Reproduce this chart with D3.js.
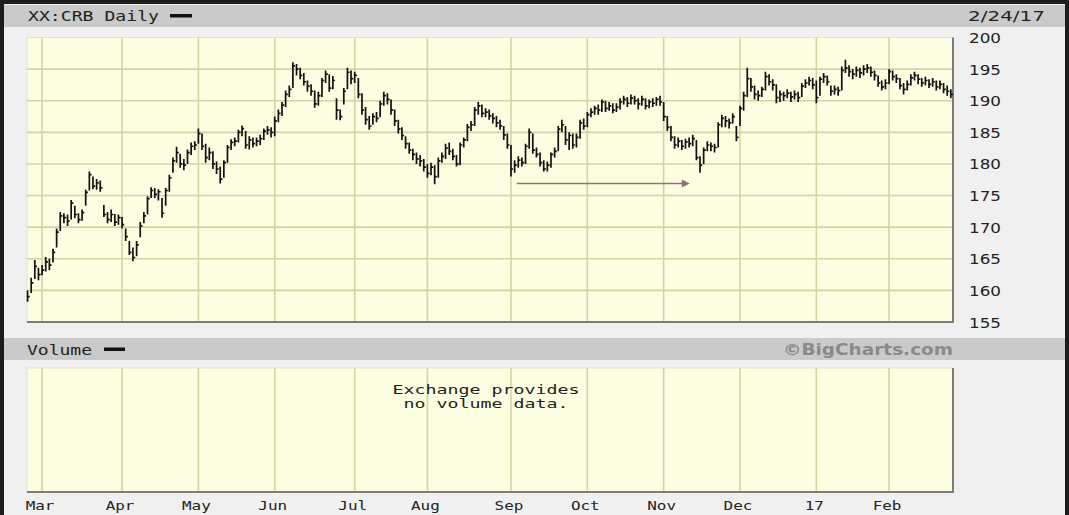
<!DOCTYPE html>
<html><head><meta charset="utf-8">
<script src="https://cdn.jsdelivr.net/npm/d3@7"></script>
<style>html,body{margin:0;padding:0;background:#1c1c1c;}svg{display:block;}</style>
</head><body>
<script>
// ---- data ----
const monthTickIndex = [4, 26, 47, 68, 90, 110, 133, 154, 175, 196, 217, 237];
const monthLabels = ["Mar","Apr","May","Jun","Jul","Aug","Sep","Oct","Nov","Dec","17","Feb"];
const yTicks = [200,195,190,185,180,175,170,165,160,155];
const close = [159.0,161.2,163.8,162.5,163.2,164.5,164.0,166.0,169.2,171.8,171.5,171.0,173.8,172.0,171.2,172.3,175.5,178.3,176.5,177.0,
176.2,172.0,171.2,172.0,170.8,171.5,170.4,168.5,166.0,165.2,167.2,170.2,171.8,174.5,175.8,175.2,175.6,172.2,175.8,177.8,
180.5,181.8,180.0,179.8,181.8,182.8,183.0,184.8,182.8,181.0,181.8,180.0,179.2,177.6,180.2,182.6,183.4,183.6,185.0,185.6,
183.0,183.8,183.2,183.6,184.0,185.2,185.4,185.0,186.8,188.0,189.3,191.0,191.8,195.5,195.0,194.0,193.0,192.3,191.5,189.5,
190.8,193.2,194.2,192.0,193.2,188.5,187.5,191.5,194.5,193.5,194.0,191.0,188.5,187.0,186.0,187.5,187.2,189.5,190.8,190.2,
188.5,186.8,185.5,184.5,183.2,182.2,181.5,180.8,180.5,179.5,178.5,179.5,178.0,180.5,181.2,182.5,182.0,181.2,180.0,183.0,
183.8,185.8,186.2,188.5,189.2,188.0,188.2,187.6,187.2,186.5,186.0,184.6,183.0,179.2,179.8,180.6,180.2,182.8,185.0,182.2,
181.5,180.2,179.2,179.8,181.5,182.0,185.5,186.2,183.8,184.5,183.0,184.2,186.5,186.0,187.8,188.2,188.8,188.5,189.8,188.8,
189.2,188.5,189.0,189.8,190.2,189.6,190.4,190.0,189.5,190.2,189.2,189.8,189.6,190.2,189.8,187.5,185.8,184.2,183.0,183.6,
182.8,183.5,183.2,184.0,181.0,179.8,182.2,183.0,182.8,182.6,186.2,187.2,186.8,186.5,187.5,184.2,188.8,190.8,193.5,192.2,
191.0,190.8,191.8,193.8,193.0,192.5,190.5,191.0,190.8,191.2,190.6,191.0,190.5,192.3,192.8,193.2,192.5,190.5,193.4,193.8,
193.0,191.5,191.8,191.6,194.8,195.2,194.6,194.2,194.8,194.4,195.0,195.2,194.5,194.0,192.8,192.2,192.8,194.6,193.8,193.5,
192.4,191.8,192.6,193.6,194.0,193.4,192.8,193.2,192.6,193.0,192.2,192.6,191.8,191.5,191.0];
const high = [160.0,162.0,164.8,163.6,164.0,165.3,165.0,166.6,169.8,172.4,172.2,172.0,174.3,173.4,172.2,172.8,175.9,178.8,178.0,177.6,
177.4,173.5,172.4,172.8,172.1,172.0,171.6,169.8,167.8,166.8,167.8,170.8,172.4,174.9,176.3,176.2,176.0,174.6,176.2,178.3,
181.0,182.7,181.6,180.8,182.3,183.4,183.6,185.6,184.8,183.2,182.6,182.0,180.4,179.6,180.6,183.0,183.9,184.2,185.4,186.1,
185.2,184.4,184.2,184.2,184.6,185.6,186.0,185.8,187.5,188.6,189.8,191.6,192.4,196.1,195.8,195.2,194.4,193.2,192.6,191.6,
191.4,193.6,194.8,194.2,193.9,190.4,188.6,192.0,195.2,194.8,194.6,193.6,191.2,189.0,187.6,188.0,188.2,190.0,191.4,191.2,
190.2,188.6,187.0,185.8,184.4,183.4,182.4,181.8,181.4,180.8,180.0,180.2,179.8,181.0,181.8,183.2,183.4,182.4,181.4,183.4,
184.2,186.3,186.8,189.0,189.8,189.4,188.8,188.6,188.0,187.6,187.0,186.0,184.8,183.0,180.6,181.2,181.0,183.2,185.6,184.8,
182.6,181.8,180.6,180.4,181.8,182.6,186.0,187.0,186.0,185.0,184.8,184.8,187.0,187.2,188.2,188.8,189.2,189.4,190.2,190.0,
189.8,189.6,189.6,190.4,190.8,190.6,191.0,190.8,190.4,190.8,190.4,190.2,190.4,190.6,190.8,189.8,187.6,186.0,184.4,184.2,
183.8,184.0,184.2,184.6,183.8,181.2,182.6,183.6,183.4,183.2,186.6,187.8,187.6,187.2,188.0,186.0,189.2,191.4,195.2,193.6,
192.4,191.6,192.2,194.6,194.2,193.4,192.6,191.6,191.4,191.8,191.4,191.6,191.4,192.8,193.4,193.8,193.6,193.2,193.8,194.4,
194.0,192.4,192.4,192.2,195.4,196.5,195.6,195.0,195.4,195.2,195.6,195.8,195.4,194.8,194.0,193.2,193.4,195.0,194.8,194.2,
193.6,192.8,193.2,194.2,194.6,194.2,193.6,193.8,193.4,193.6,193.2,193.2,192.8,192.4,191.8];
const low = [158.2,159.6,161.8,161.6,162.4,163.0,163.2,164.4,166.8,169.4,170.6,170.2,171.2,171.4,170.6,171.0,173.4,175.8,176.0,175.9,
175.6,171.6,170.6,170.8,170.2,170.4,169.8,167.8,165.6,164.6,165.4,168.4,170.6,172.0,174.6,174.6,174.2,171.5,173.4,175.6,
178.6,180.2,179.4,179.0,180.0,181.4,182.2,183.2,182.2,180.2,180.6,179.2,178.4,176.9,177.8,180.2,182.2,182.8,183.4,184.4,
182.4,182.3,182.6,182.8,183.0,183.8,184.6,184.2,184.4,186.6,187.6,189.0,190.6,192.0,194.0,193.4,192.4,191.4,190.8,188.9,
189.2,190.6,192.8,191.4,191.8,187.0,186.9,189.4,191.8,192.6,192.8,190.4,187.8,186.2,185.4,186.2,186.6,187.4,189.2,189.4,
187.8,186.0,184.8,183.8,182.4,181.6,180.6,180.0,179.6,178.8,177.8,178.2,176.8,177.8,180.2,180.8,181.4,180.6,179.6,179.8,
182.6,183.6,185.2,186.0,187.8,187.4,187.4,187.0,186.4,185.8,185.4,183.8,182.4,178.0,178.6,179.4,179.6,180.0,182.4,181.6,
181.0,179.6,178.8,178.8,179.4,181.0,182.0,185.0,183.0,182.2,182.4,182.6,184.0,185.4,185.8,187.4,187.8,187.8,188.2,188.2,
188.4,188.0,188.2,188.6,189.4,189.0,189.4,189.4,188.6,189.2,188.6,188.8,189.0,189.2,189.2,186.8,185.2,183.6,182.4,182.6,
182.2,182.4,182.6,182.8,180.6,178.6,180.0,182.0,182.0,181.8,182.6,185.8,185.8,185.6,186.4,183.6,186.0,188.4,190.6,191.4,
190.2,190.0,190.6,191.6,192.4,191.6,189.6,189.8,190.0,190.4,189.8,190.2,189.8,190.6,192.0,192.4,191.8,189.6,190.8,192.8,
192.4,190.8,191.0,190.8,191.6,194.4,193.8,193.4,193.8,193.6,194.0,194.4,193.8,193.2,192.2,191.6,191.8,192.6,193.2,192.8,
191.8,191.0,191.6,192.4,193.2,192.6,192.2,192.4,192.0,192.2,191.6,191.8,191.2,190.8,190.4];
// annotation arrow [index, value]
const arrowFrom = [134.6, 176.9];
const arrowTo = [182.2, 176.9];

// ---- layout ----
const W = 1069, H = 515;
const plot = {x0: 27, x1: 953, y0: 37.5, y1: 322};
const vol = {y0: 368, y1: 492};
const svg = d3.select("body").append("svg").attr("width", W).attr("height", H);

const x = d3.scaleLinear().domain([-0.15, 254.6]).range([plot.x0, plot.x1]);
const y = d3.scaleLinear().domain([155, 200]).range([plot.y1, plot.y0]);

// frame
svg.append("rect").attr("x", 4).attr("y", 4).attr("width", 1061).attr("height", H - 4).attr("fill", "#f0f0f0");
svg.append("rect").attr("x", 4).attr("y", 5).attr("width", 1061).attr("height", 22).attr("fill", "#cacaca");
svg.append("rect").attr("x", 4).attr("y", 338).attr("width", 1061).attr("height", 22).attr("fill", "#cacaca");

const mono = "'DejaVu Sans Mono', monospace";
const sans = "'DejaVu Sans', Verdana, sans-serif";

// header texts
svg.append("text").attr("x", 28).attr("y", 21).attr("font-family", mono).attr("font-size", 14)
  .attr("textLength", 131).attr("lengthAdjust", "spacingAndGlyphs").attr("fill", "#222").text("XX:CRB Daily");
svg.append("rect").attr("x", 170).attr("y", 14).attr("width", 22).attr("height", 3.5).attr("fill", "#111");
svg.append("text").attr("x", 968).attr("y", 21).attr("font-family", sans).attr("font-size", 14)
  .attr("textLength", 77).attr("lengthAdjust", "spacingAndGlyphs").attr("fill", "#222").text("2/24/17");

svg.append("text").attr("x", 27).attr("y", 355).attr("font-family", mono).attr("font-size", 14)
  .attr("textLength", 65).attr("lengthAdjust", "spacingAndGlyphs").attr("fill", "#222").text("Volume");
svg.append("rect").attr("x", 104).attr("y", 347.5).attr("width", 21).attr("height", 3.5).attr("fill", "#111");
svg.append("text").attr("x", 953).attr("y", 355).attr("text-anchor", "end").attr("font-family", sans)
  .attr("font-weight", "bold").attr("font-size", 15).attr("textLength", 170).attr("lengthAdjust", "spacingAndGlyphs")
  .attr("fill", "#8a8a8a").text("\u00A9BigCharts.com");

// plot backgrounds
function panel(y0, y1) {
  svg.append("rect").attr("x", plot.x0).attr("y", y0).attr("width", plot.x1 - plot.x0).attr("height", y1 - y0)
    .attr("fill", "#fdfde2").attr("stroke", "#e2e2c6").attr("stroke-width", 1);
}
panel(plot.y0, plot.y1);
panel(vol.y0, vol.y1);

const gridColor = "#d3d4a3";
// horizontal gridlines (price)
svg.append("g").selectAll("line").data(yTicks.filter(v => v > 155 && v < 200)).join("line")
  .attr("x1", plot.x0).attr("x2", plot.x1).attr("y1", d => y(d)).attr("y2", d => y(d))
  .attr("stroke", gridColor).attr("stroke-width", 1.6);
// vertical gridlines both panels
[[plot.y0, plot.y1], [vol.y0, vol.y1]].forEach(([a, b]) => {
  svg.append("g").selectAll("line").data(monthTickIndex).join("line")
    .attr("x1", d => x(d)).attr("x2", d => x(d)).attr("y1", a).attr("y2", b)
    .attr("stroke", gridColor).attr("stroke-width", 1.6);
});
// shadow borders (right & bottom)
[[plot.y0, plot.y1], [vol.y0, vol.y1]].forEach(([a, b]) => {
  svg.append("path").attr("d", `M${plot.x0},${b}H${plot.x1}V${a}`).attr("fill", "none")
    .attr("stroke", "#7d7d7d").attr("stroke-width", 2);
});

// y axis labels
svg.append("g").selectAll("text").data(yTicks).join("text")
  .attr("x", 969).attr("y", d => y(d) + 5.5).attr("font-family", sans).attr("font-size", 14.5)
  .attr("textLength", 32).attr("lengthAdjust", "spacingAndGlyphs").attr("fill", "#222").text(d => d);

// x axis labels
svg.append("g").selectAll("text").data(monthTickIndex).join("text")
  .attr("x", d => x(d) - 2).attr("y", 510).attr("text-anchor", "middle").attr("font-family", mono)
  .attr("font-size", 13).attr("textLength", (d, i) => monthLabels[i].length * 9.6).attr("lengthAdjust", "spacingAndGlyphs")
  .attr("fill", "#222").text((d, i) => monthLabels[i]);

// no-volume message
svg.append("text").attr("x", 486).attr("y", 394).attr("text-anchor", "middle").attr("font-family", mono)
  .attr("font-size", 12).attr("textLength", 187).attr("lengthAdjust", "spacingAndGlyphs").attr("fill", "#222").text("Exchange provides");
svg.append("text").attr("x", 486).attr("y", 408).attr("text-anchor", "middle").attr("font-family", mono)
  .attr("font-size", 12).attr("textLength", 165).attr("lengthAdjust", "spacingAndGlyphs").attr("fill", "#222").text("no volume data.");

// price bars (HLC)
const bars = svg.append("g").attr("stroke", "#111").attr("stroke-width", 1.7).attr("fill", "none");
bars.selectAll("path").data(close).join("path")
  .attr("d", (c, i) => {
    const xi = x(i);
    return `M${xi},${y(high[i])}V${y(low[i])}M${xi},${y(c)}H${xi + 2.2}`;
  });

// annotation arrow
const ax0 = x(arrowFrom[0]), ay0 = y(arrowFrom[1]), ax1 = x(arrowTo[0]), ay1 = y(arrowTo[1]);
svg.append("line").attr("x1", ax0).attr("y1", ay0).attr("x2", ax1 - 6).attr("y2", ay1)
  .attr("stroke", "#8c7474").attr("stroke-width", 1.5);
svg.append("path").attr("d", `M${ax1},${ay1}L${ax1 - 8},${ay1 - 4}L${ax1 - 8},${ay1 + 4}Z`).attr("fill", "#8c7474");
</script>
</body></html>
